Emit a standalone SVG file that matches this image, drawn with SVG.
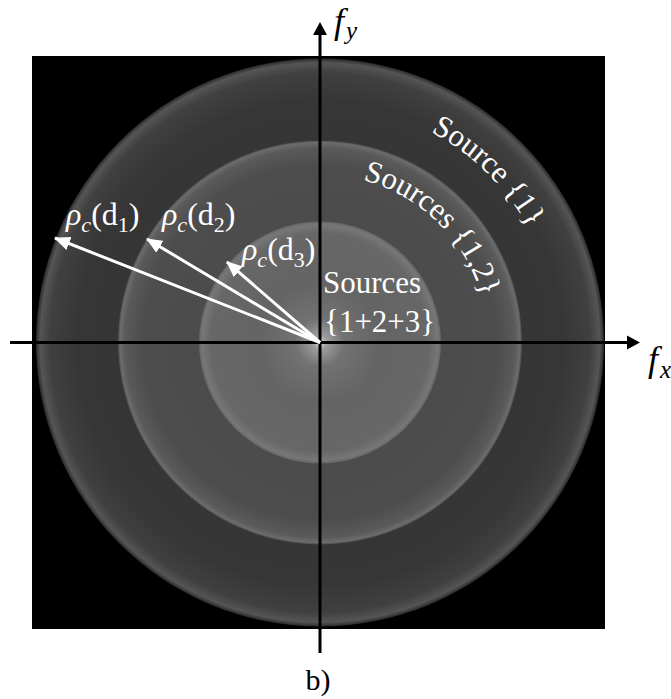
<svg xmlns="http://www.w3.org/2000/svg" width="671" height="699" viewBox="0 0 671 699">
<style>
.lbl{font-family:"Liberation Serif","Times New Roman",serif;font-size:31px;fill:#fff}
.rho{font-size:32px}
.ax{stroke:#000;stroke-width:3;fill:none}
.vec{stroke:#fff;stroke-width:3;fill:none}
.it{font-style:italic}
.sub{font-size:22px}
.bl{font-family:"Liberation Serif","Times New Roman",serif;font-size:30px;fill:#000}
.axl{font-size:36px}
.axs{font-size:25px}
</style>
<defs>
<radialGradient id="gOuter" cx="320" cy="342.5" r="284" gradientUnits="userSpaceOnUse">
<stop offset="0" stop-color="#323232"/>
<stop offset="0.85" stop-color="#363636"/>
<stop offset="0.95" stop-color="#404040"/>
<stop offset="0.985" stop-color="#555"/>
<stop offset="1" stop-color="#2a2a2a"/>
</radialGradient>
<radialGradient id="gMid" cx="320" cy="342.5" r="202" gradientUnits="userSpaceOnUse">
<stop offset="0" stop-color="#494949"/>
<stop offset="0.88" stop-color="#4d4d4d"/>
<stop offset="0.965" stop-color="#5a5a5a"/>
<stop offset="0.99" stop-color="#6c6c6c"/>
<stop offset="1" stop-color="#494949"/>
</radialGradient>
<radialGradient id="gIn" cx="320" cy="342.5" r="121" gradientUnits="userSpaceOnUse">
<stop offset="0" stop-color="#d8d8d8"/>
<stop offset="0.06" stop-color="#9c9c9c"/>
<stop offset="0.2" stop-color="#727272"/>
<stop offset="0.5" stop-color="#646464"/>
<stop offset="0.9" stop-color="#676767"/>
<stop offset="0.975" stop-color="#777"/>
<stop offset="1" stop-color="#646464"/>
</radialGradient>
<marker id="wh" viewBox="0 0 16 14" refX="15" refY="7" markerWidth="16" markerHeight="14" markerUnits="userSpaceOnUse" orient="auto">
<path d="M0,0 L16,7 L0,14 Z" fill="#fff"/>
</marker>
<path id="arcOuter" d="M315.85,104.54 A238,238 0 0 1 558,342.5"/>
<path id="arcMid" d="M317.07,174.53 A168,168 0 0 1 488,342.5"/>
</defs>

<g id="background">
<rect x="32" y="56" width="573" height="573" fill="#000"/>
</g>

<g id="rings">
<circle id="ring-source1" cx="320" cy="342.5" r="284" fill="url(#gOuter)"/>
<circle id="ring-sources12" cx="320" cy="342.5" r="202" fill="url(#gMid)"/>
<circle id="ring-sources123" cx="320" cy="342.5" r="121" fill="url(#gIn)"/>
</g>

<g id="connectors">
<line class="ax" x1="10" y1="342.5" x2="628" y2="342.5"/>
<path d="M640,342.5 L627,335.5 L627,349.5 Z" fill="#000"/>
<line class="ax" x1="320" y1="653" x2="320" y2="34"/>
<path d="M320,22 L313,35 L327,35 Z" fill="#000"/>
<line class="vec" x1="320" y1="342.5" x2="55" y2="238" marker-end="url(#wh)"/>
<line class="vec" x1="320" y1="342.5" x2="147" y2="239" marker-end="url(#wh)"/>
<line class="vec" x1="320" y1="342.5" x2="227" y2="262" marker-end="url(#wh)"/>
</g>

<g id="labels">
<text class="lbl rho" x="66" y="225"><tspan class="it">ρ</tspan><tspan class="it sub" dy="7">c</tspan><tspan dy="-7">(d</tspan><tspan class="sub" dy="7">1</tspan><tspan dy="-7">)</tspan></text>
<text class="lbl rho" x="162" y="225"><tspan class="it">ρ</tspan><tspan class="it sub" dy="7">c</tspan><tspan dy="-7">(d</tspan><tspan class="sub" dy="7">2</tspan><tspan dy="-7">)</tspan></text>
<text class="lbl rho" x="242" y="260"><tspan class="it">ρ</tspan><tspan class="it sub" dy="7">c</tspan><tspan dy="-7">(d</tspan><tspan class="sub" dy="7">3</tspan><tspan dy="-7">)</tspan></text>
<text class="lbl" x="323" y="293">Sources</text>
<text class="lbl" x="324" y="332">{1+2+3}</text>
<text class="lbl"><textPath href="#arcOuter" startOffset="50%" text-anchor="middle">Source {1}</textPath></text>
<text class="lbl"><textPath href="#arcMid" startOffset="50%" text-anchor="middle">Sources {1,2}</textPath></text>
<text class="bl it axl" x="334" y="33">f<tspan class="axs" dx="2" dy="6">y</tspan></text>
<text class="bl it axl" x="648" y="371">f<tspan class="axs" dx="2" dy="7">x</tspan></text>
<text class="bl" x="318" y="690" text-anchor="middle">b)</text>
</g>
</svg>
